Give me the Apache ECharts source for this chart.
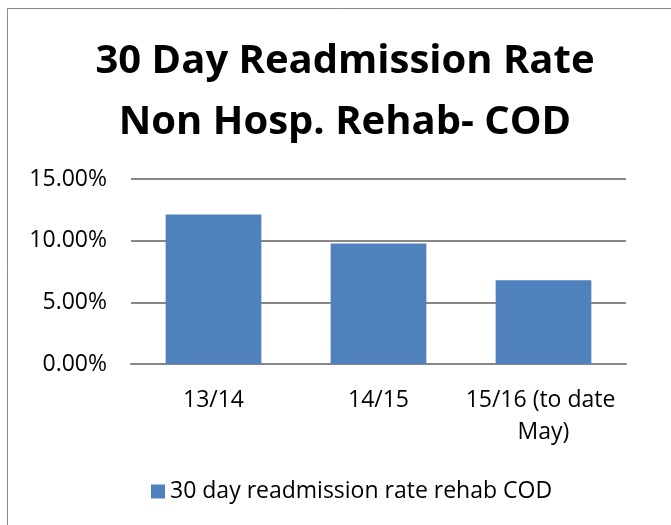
<!DOCTYPE html>
<html>
<head>
<meta charset="utf-8">
<script src="https://cdn.jsdelivr.net/npm/echarts@6/dist/echarts.min.js"></script>
<style>
  html, body { margin: 0; padding: 0; background: #fff; }
  #chart { width: 671px; height: 525px; }
</style>
</head>
<body>
<div id="chart"></div>
<script>
const categories = ['13/14', '14/15', '15/16 (to date May)'];
const rates = [0.1212, 0.0978, 0.0680];
const seriesName = '30 day readmission rate rehab COD';
const titleLines = ['30 Day Readmission Rate', 'Non Hosp. Rehab- COD'];

const font = '"Open Sans", "Noto Sans", sans-serif';

let chart = echarts.init(document.getElementById('chart'));
chart.setOption({
    backgroundColor: '#fff',
    animation: false,
    title: {
        text: titleLines.join('\n'),
        left: 345,
        top: 31,
        padding: 0,
        textAlign: 'center',
        textStyle: {
            fontFamily: font,
            fontWeight: 'bold',
            fontSize: 40,
            lineHeight: 61,
            color: '#000'
        }
    },
    legend: {
        data: [seriesName],
        top: 475,
        left: 146,
        itemWidth: 14,
        itemHeight: 14,
        itemGap: 6,
        icon: 'rect',
        textStyle: { fontFamily: font, fontSize: 23, color: '#000' }
    },
    grid: { left: 131, right: 45, top: 179, bottom: 161, containLabel: false },
    xAxis: {
        type: 'category',
        data: categories,
        axisTick: { show: false },
        axisLine: { lineStyle: { color: '#888', width: 2 } },
        axisLabel: {
            interval: 0,
            fontFamily: font,
            fontSize: 23,
            color: '#000',
            margin: 20,
            width: 165,
            overflow: 'break',
            lineHeight: 32
        }
    },
    yAxis: {
        type: 'value',
        min: 0,
        max: 0.15,
        interval: 0.05,
        axisLine: { show: false },
        axisTick: { show: false },
        splitLine: { lineStyle: { color: '#888', width: 2 } },
        axisLabel: {
            fontFamily: font,
            fontSize: 23,
            color: '#000',
            margin: 24,
            formatter: v => (v * 100).toFixed(2) + '%'
        }
    },
    series: [{
        name: seriesName,
        type: 'bar',
        data: rates,
        barCategoryGap: '42%',
        itemStyle: { color: '#4f81bd' }
    }],
    graphic: [{
        type: 'rect',
        shape: { x: 7.5, y: 8.5, width: 680, height: 540 },
        style: { fill: 'none', stroke: '#888', lineWidth: 1 },
        silent: true
    }]
});
</script>
</body>
</html>
